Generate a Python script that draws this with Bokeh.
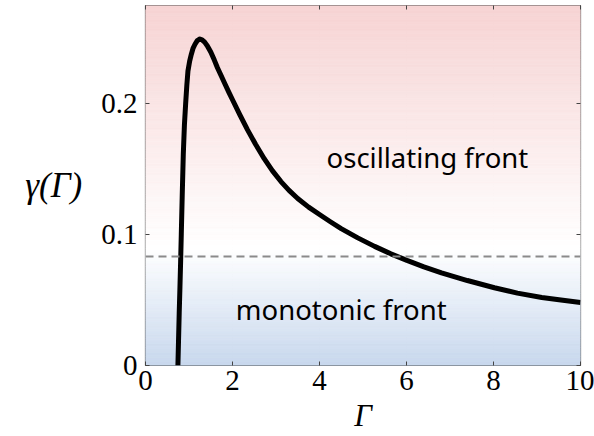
import numpy as np
from bokeh.plotting import figure
from bokeh.models import (FixedTicker, Span, Label, LinearAxis,
                          CustomJSTickFormatter)
from bokeh.embed import file_html
from bokeh.resources import INLINE

# Growth-rate curve gamma(Gamma), sampled points
gamma_cap = [0.745, 0.76, 0.775, 0.792, 0.808, 0.823, 0.845, 0.869, 0.895,
             0.923, 0.95, 0.976, 1.015, 1.054, 1.095, 1.138, 1.19, 1.25,
             1.30, 1.36, 1.423, 1.50, 1.58, 1.654, 1.74, 1.83, 1.92, 2.0,
             2.17, 2.346, 2.53, 2.729, 2.92, 3.114, 3.30, 3.499, 3.75, 4.0,
             4.25, 4.498, 4.88, 5.267, 5.64, 6.01, 6.40, 6.805, 7.40, 8.02,
             8.55, 9.11, 9.55, 10.0]
growth = [0.0, 0.02, 0.04, 0.06, 0.080, 0.1005, 0.131, 0.1615, 0.184,
          0.200, 0.214, 0.225, 0.2325, 0.2378, 0.2425, 0.2454, 0.2482,
          0.2494, 0.2488, 0.2470, 0.2441, 0.2395, 0.2335, 0.2275, 0.2213,
          0.2148, 0.2085, 0.2030, 0.1915, 0.1800, 0.1690, 0.1580, 0.1487,
          0.1405, 0.1338, 0.1276, 0.1210, 0.1153, 0.1098, 0.1046, 0.0975,
          0.0910, 0.0853, 0.0803, 0.0754, 0.0708, 0.0649, 0.0594, 0.0553,
          0.0520, 0.0500, 0.0482]

# Threshold separating the two regimes
threshold = 1.0 / 12.0

x_ticks = [0, 2, 4, 6, 8, 10]
y_ticks = [0, 0.1, 0.2]
y_tick_labels = {0: "0", 0.1: "0.1", 0.2: "0.2"}

region_labels = ["oscillating front", "monotonic front"]
region_x = [6.48, 4.5]
region_y = [0.159, 0.043]

X_MAX, Y_MAX = 10.0, 0.275

p = figure(width=594, height=436, x_range=(0, X_MAX), y_range=(0, Y_MAX),
           output_backend="svg", toolbar_location=None,
           min_border_left=145, min_border_right=14,
           min_border_top=5, min_border_bottom=71)
p.background_fill_color = "white"
p.border_fill_color = "white"

# vertical background: pink on top, white near the threshold, blue below
n = 280
edges = np.linspace(0, Y_MAX, n + 1)
mids = 0.5 * (edges[:-1] + edges[1:])
white_at = 0.09
pink = np.array([246, 211, 211])
blue = np.array([199, 215, 237])
white = np.array([255, 255, 255])
cols = []
for m in mids:
    if m >= white_at:
        t = (m - white_at) / (Y_MAX - white_at)
        c = white + (pink - white) * t
    else:
        t = (white_at - m) / white_at
        c = white + (blue - white) * t
    cols.append("#%02x%02x%02x" % tuple(int(round(v)) for v in c))
p.quad(left=0, right=X_MAX, bottom=edges[:-1], top=edges[1:],
       fill_color=cols, line_color=cols, line_width=0.8)

# grid
p.xgrid.ticker = FixedTicker(ticks=x_ticks)
p.ygrid.ticker = FixedTicker(ticks=y_ticks)
for g in (p.xgrid, p.ygrid):
    g.grid_line_color = "#8c8c8c"
    g.grid_line_alpha = 0.35
    g.grid_line_width = 1

# threshold line
p.add_layout(Span(location=threshold, dimension="width", line_color="#8a8a8a",
                  line_width=2, line_dash="8 5"))

# curve
p.line(gamma_cap, growth, line_color="black", line_width=5,
       line_join="round", line_cap="butt")

# region labels
for txt, xx, yy in zip(region_labels, region_x, region_y):
    p.add_layout(Label(x=xx, y=yy, text=txt, text_align="center",
                       text_baseline="middle", text_font="'Noto Sans'",
                       text_font_size="27.5px", text_color="black"))

serif = "'Liberation Serif'"

xa = p.xaxis[0]
xa.ticker = FixedTicker(ticks=x_ticks)
xa.axis_label = "Γ"
ya = p.yaxis[0]
ya.ticker = FixedTicker(ticks=y_ticks)
ya.major_label_overrides = y_tick_labels
ya.axis_label = "γ(Γ)"
ya.axis_label_orientation = "horizontal"

for ax in (xa, ya):
    ax.axis_line_color = None
    ax.major_tick_in = 4
    ax.major_tick_out = 0
    ax.major_tick_line_color = "#444444"
    ax.minor_tick_line_color = None
    ax.major_label_text_font = serif
    ax.major_label_text_font_size = "29px"
    ax.major_label_text_color = "black"
    ax.axis_label_text_font = serif
    ax.axis_label_text_font_style = "italic"
    ax.axis_label_text_color = "black"
xa.axis_label_text_font_size = "31px"
ya.axis_label_text_font_size = "35px"
xa.major_label_standoff = 5
xa.axis_label_standoff = 5
ya.major_label_standoff = 8
ya.axis_label_standoff = 16

# tick marks on the opposite sides of the frame
blank = CustomJSTickFormatter(code="return ''")
for loc, ticks in (("right", y_ticks), ("above", x_ticks)):
    ax = LinearAxis(ticker=FixedTicker(ticks=ticks), formatter=blank,
                    axis_line_color=None, major_tick_in=4, major_tick_out=0,
                    major_tick_line_color="#444444", minor_tick_line_color=None,
                    major_label_standoff=0, major_label_text_font_size="1px")
    p.add_layout(ax, loc)

p.outline_line_color = "#444444"
p.outline_line_width = 1.2

open("out.html", "w").write(file_html(p, INLINE))
